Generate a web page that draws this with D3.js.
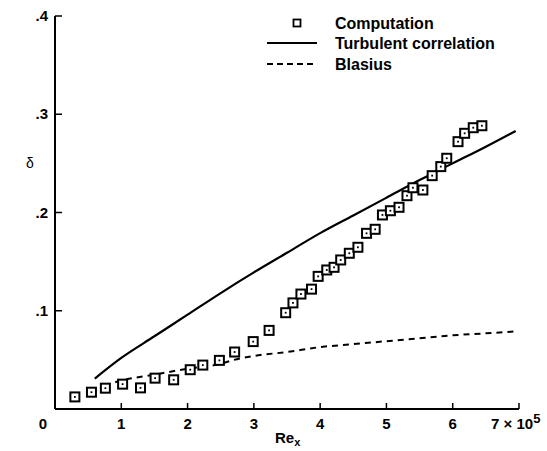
<!DOCTYPE html>
<html><head><meta charset="utf-8">
<script src="https://cdn.jsdelivr.net/npm/d3@7"></script>
<style>
body{margin:0;background:#fff;}
text{font-family:"Liberation Sans",Arial,sans-serif;fill:#000;}
</style></head>
<body>
<svg id="c" width="547" height="451"></svg>
<script>
// Data (Re_x in units of 1e5)
const compX = [0.30,0.55,0.76,1.02,1.29,1.51,1.79,2.04,2.23,2.48,2.71,2.99,3.23,3.48,3.59,3.71,3.87,3.97,4.10,4.21,4.31,4.44,4.57,4.70,4.83,4.94,5.06,5.19,5.31,5.40,5.55,5.69,5.82,5.91,6.08,6.18,6.31,6.44];
const compY = [0.0123,0.0171,0.0212,0.0253,0.0215,0.0314,0.0297,0.040,0.0447,0.0495,0.058,0.0686,0.080,0.098,0.108,0.117,0.122,0.135,0.1415,0.1442,0.1517,0.1585,0.1646,0.1788,0.1829,0.1975,0.2018,0.2053,0.2171,0.2252,0.2229,0.2375,0.2467,0.2552,0.2721,0.2806,0.2863,0.2883];
const turbX = [0.6,1.0,1.5,2.0,2.5,3.0,3.5,4.0,4.5,5.0,5.5,6.0,6.5,6.95];
const turbY = [0.031,0.052,0.074,0.096,0.118,0.139,0.159,0.179,0.197,0.215,0.233,0.250,0.267,0.283];
const blasX = [0.75,1.0,1.5,2.0,2.5,2.7,3.0,3.5,4.0,4.5,5.0,5.5,6.0,6.5,6.95];
const blasY = [0.024,0.029,0.035,0.041,0.046,0.050,0.054,0.058,0.063,0.066,0.069,0.072,0.075,0.077,0.079];
const xTicks = [0,1,2,3,4,5,6,7];
const xTickLabels = ["0","1","2","3","4","5","6","7 × 10"];
const yTicks = [0.1,0.2,0.3,0.4];
const yTickLabels = [".1",".2",".3",".4"];
const legendLabels = ["Computation","Turbulent correlation","Blasius"];

const svg = d3.select("#c");
const x = d3.scaleLinear().domain([0,7]).range([55,519]);
const y = d3.scaleLinear().domain([0,0.4]).range([409,16]);

// axes lines
svg.append("line").attr("x1",x(0)).attr("x2",x(7)).attr("y1",y(0)).attr("y2",y(0)).attr("stroke","#000").attr("stroke-width",2);
svg.append("line").attr("x1",x(0)).attr("x2",x(0)).attr("y1",y(0)).attr("y2",y(0.4)).attr("stroke","#000").attr("stroke-width",2);

// x ticks (inward)
svg.selectAll(".xt").data(xTicks.slice(1)).enter().append("line")
  .attr("x1",d=>x(d)).attr("x2",d=>x(d)).attr("y1",y(0)).attr("y2",y(0)-6)
  .attr("stroke","#000").attr("stroke-width",1.5);
svg.selectAll(".xl").data(xTicks).enter().append("text")
  .attr("x",d=>d===0?x(d)-12:x(d)).attr("y",y(0)+20)
  .attr("text-anchor",d=>d===7?"start":"middle")
  .attr("dx",d=>d===7?-28:0)
  .attr("font-size",15).attr("font-weight","bold")
  .each(function(d,i){
    const t=d3.select(this);
    t.text(xTickLabels[i]);
    if(d===7){ t.append("tspan").attr("dy",-6).attr("font-size",13).text("5"); }
  });

// y ticks (inward)
svg.selectAll(".yt").data(yTicks).enter().append("line")
  .attr("x1",x(0)).attr("x2",x(0)+7).attr("y1",d=>y(d)).attr("y2",d=>y(d))
  .attr("stroke","#000").attr("stroke-width",1.5);
svg.selectAll(".yl").data(yTicks).enter().append("text")
  .attr("x",x(0)-7).attr("y",d=>y(d)+5).attr("text-anchor","end")
  .attr("font-size",15).attr("font-weight","bold")
  .text((d,i)=>yTickLabels[i]);

// axis titles
svg.append("text").attr("x",30).attr("y",168).attr("text-anchor","middle").attr("font-size",14).text("δ");
const xt = svg.append("text").attr("x",275).attr("y",443).attr("font-size",15).attr("font-weight","bold");
xt.append("tspan").text("Re");
xt.append("tspan").attr("dy",3).attr("font-size",11).text("x");

// lines
const line = d3.line().x(d=>x(d[0])).y(d=>y(d[1])).curve(d3.curveMonotoneX);
svg.append("path").datum(turbX.map((v,i)=>[v,turbY[i]])).attr("d",line)
  .attr("fill","none").attr("stroke","#000").attr("stroke-width",2.2);
svg.append("path").datum(blasX.map((v,i)=>[v,blasY[i]])).attr("d",line)
  .attr("fill","none").attr("stroke","#000").attr("stroke-width",2).attr("stroke-dasharray","6,5");

// squares
const pts = compX.map((v,i)=>[v,compY[i]]);
svg.selectAll(".sq").data(pts).enter().append("rect")
  .attr("x",d=>x(d[0])-4.5).attr("y",d=>y(d[1])-4.5).attr("width",9).attr("height",9)
  .attr("fill","#fff").attr("stroke","#000").attr("stroke-width",2);
svg.selectAll(".dt").data(pts).enter().append("rect")
  .attr("x",d=>x(d[0])-0.9).attr("y",d=>y(d[1])-0.9).attr("width",1.8).attr("height",1.8).attr("fill","#000");

// legend
const lg = svg.append("g");
lg.append("rect").attr("x",293.5).attr("y",19.5).attr("width",7).attr("height",7).attr("fill","#fff").attr("stroke","#000").attr("stroke-width",1.8);
lg.append("line").attr("x1",267).attr("x2",317).attr("y1",43).attr("y2",43).attr("stroke","#000").attr("stroke-width",2);
lg.append("line").attr("x1",267).attr("x2",317).attr("y1",64).attr("y2",64).attr("stroke","#000").attr("stroke-width",2).attr("stroke-dasharray","6,4");
lg.selectAll(".lt").data(legendLabels).enter().append("text")
  .attr("x",335).attr("y",(d,i)=>[29,49,70][i]).attr("font-size",16).attr("font-weight","bold")
  .text(d=>d);
</script>
</body></html>
